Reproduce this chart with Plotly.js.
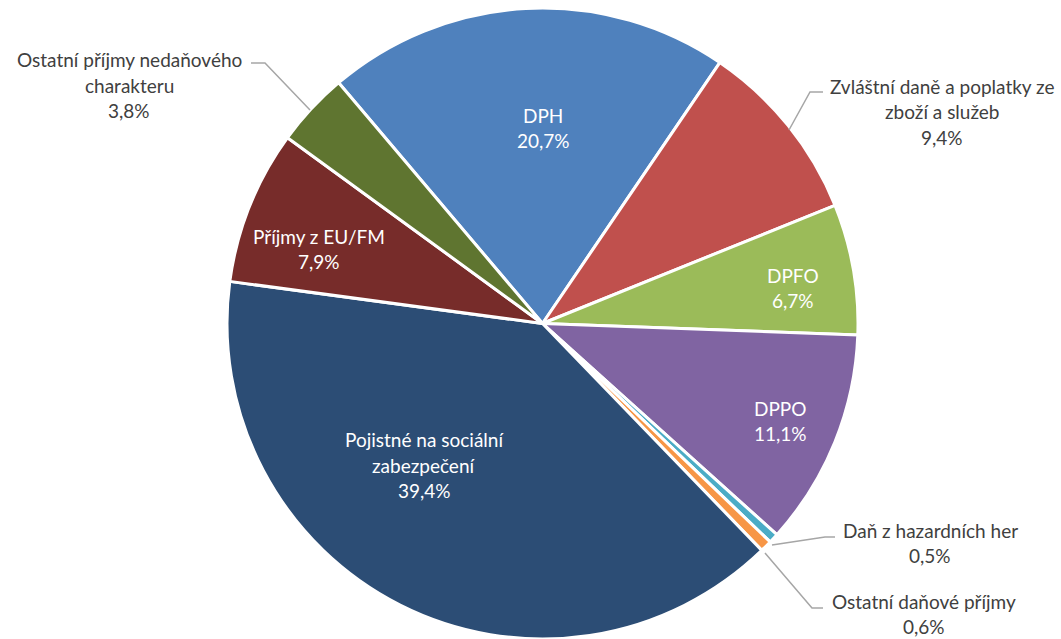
<!DOCTYPE html>
<html><head><meta charset="utf-8">
<script src="https://cdn.plot.ly/plotly-3.0.1.min.js"></script>
<style>html,body{margin:0;padding:0;background:#fff}#chart{width:1061px;height:639px}</style>
</head><body><div id="chart"></div>
<script>
// ---- data ----
const categories = ["DPH", "Zvláštní daně a poplatky ze zboží a služeb", "DPFO", "DPPO", "Daň z hazardních her", "Ostatní daňové příjmy", "Pojistné na sociální zabezpečení", "Příjmy z EU/FM", "Ostatní příjmy nedaňového charakteru"];
const shares = [20.7, 9.4, 6.7, 11.1, 0.5, 0.6, 39.4, 7.9, 3.8];
const labelLines = [["DPH"], ["Zvláštní daně a poplatky ze", "zboží a služeb"], ["DPFO"], ["DPPO"], ["Daň z hazardních her"], ["Ostatní daňové příjmy"], ["Pojistné na sociální", "zabezpečení"], ["Příjmy z EU/FM"], ["Ostatní příjmy nedaňového", "charakteru"]];

// ---- styles / positions ----
const colors = ["#4F81BD", "#C0504D", "#9BBB59", "#8064A2", "#4BACC6", "#F79646", "#2C4D75", "#772C2A", "#5F7530"];
const inside = [true, false, true, true, false, false, true, true, false];
const labelCenter = [[543,128],[942,112],[793,288],[780,421],[930,543],[924,614],[424,465],[319,249],[129,85]];
const leaders = [null, [[823,92],[810,92],[789,130]], null, null, [[835,537],[825,537],[772,545]], [[823,608],[812,608],[765,553]], null, null, [[251,63],[265,63],[310,110]]];
const W = 1061, H = 639, lineGap = 25.5;
const FONT = "Lato, 'Open Sans', sans-serif";

const px = x => x / W, py = y => 1 - y / H;
const fmt = v => v.toFixed(1).replace('.', ',') + '%';

const annotations = [];
categories.forEach((c, i) => {
  const lines = labelLines[i].concat([fmt(shares[i])]);
  const [cx, cy] = labelCenter[i];
  const y0 = cy - (lines.length - 1) * lineGap / 2;
  lines.forEach((t, k) => {
    annotations.push({
      xref: 'paper', yref: 'paper', x: px(cx), y: py(y0 + k * lineGap),
      xanchor: 'center', yanchor: 'middle', showarrow: false, text: t,
      font: {family: FONT, size: 19, color: inside[i] ? '#FFFFFF' : '#404040'}
    });
  });
});

const shapes = leaders.filter(l => l).map(pts => ({
  type: 'path', xref: 'paper', yref: 'paper',
  path: pts.map((p, k) => (k ? 'L' : 'M') + px(p[0]) + ',' + py(p[1])).join(' '),
  line: {color: '#A6A6A6', width: 1.5}
}));

const trace = {
  type: 'pie', labels: categories, values: shares, sort: false,
  direction: 'clockwise', rotation: -40.25,
  marker: {colors: colors, line: {color: '#FFFFFF', width: 3}},
  textinfo: 'none', hoverinfo: 'none',
  domain: {x: [227 / W, 858 / W], y: [0, 631 / H]}
};

Plotly.newPlot('chart', [trace], {
  width: W, height: H, margin: {l: 0, r: 0, t: 0, b: 0},
  showlegend: false, paper_bgcolor: '#FFFFFF',
  annotations: annotations, shapes: shapes
}, {staticPlot: true, displayModeBar: false});
</script></body></html>
